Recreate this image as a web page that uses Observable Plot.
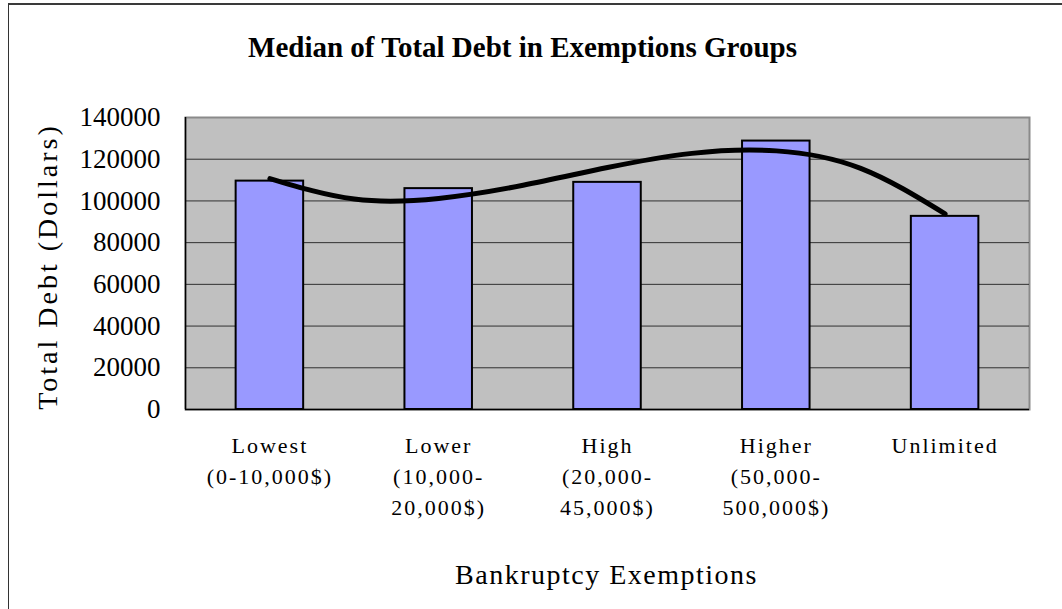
<!DOCTYPE html>
<html>
<head>
<meta charset="utf-8">
<script src="https://cdn.jsdelivr.net/npm/d3@7"></script>
<script src="https://cdn.jsdelivr.net/npm/@observablehq/plot@0.6"></script>
<style>
  html, body { margin: 0; padding: 0; background: #fff; overflow: hidden; }
  #wrap { position: relative; width: 1062px; height: 609px; }
  #border { position: absolute; left: 8px; top: 3px; width: 1200px; height: 800px;
            border-top: 2px solid #3a3a3a; border-left: 1.5px solid #333; pointer-events: none; z-index: 2; }
  #chart { position: absolute; left: 0; top: 0; }
</style>
</head>
<body>
<div id="wrap"><div id="chart"></div><div id="border"></div></div>
<script>
const categories = [
  "Lowest\n(0-10,000$)",
  "Lower\n(10,000-\n20,000$)",
  "High\n(20,000-\n45,000$)",
  "Higher\n(50,000-\n500,000$)",
  "Unlimited"
];
const medianDebt = [109500, 105900, 108900, 128700, 92600];
const yTicks = [0, 20000, 40000, 60000, 80000, 100000, 120000, 140000];
// trend curve, at category positions and midpoints
const trendPos = [1, 1.5, 2, 2.5, 3, 3.5, 4, 4.5, 5];
const trendDebt = [110700, 100900, 101200, 107500, 116000, 122800, 124000, 115600, 93800];

const titleText = "Median of Total Debt in Exemptions Groups";
const yLabel = "Total Debt (Dollars)";
const xLabel = "Bankruptcy Exemptions";

const bars = categories.map((c, i) => ({pos: i + 1, label: c, value: medianDebt[i]}));
const trend = trendPos.map((p, i) => ({pos: p, value: trendDebt[i]}));
const half = 0.2;

const serif = "'Liberation Serif', 'Times New Roman', serif";

const chart = Plot.plot({
  width: 1062,
  height: 609,
  marginLeft: 185,
  marginRight: 33,
  marginTop: 117,
  marginBottom: 200,
  style: {background: "transparent", color: "#000", fontFamily: serif},
  x: {type: "linear", domain: [0.5, 5.5], axis: null},
  y: {domain: [0, 140000], axis: null},
  marks: [
    Plot.frame({fill: "#c0c0c0", stroke: "#8a8a8a", strokeWidth: 2}),
    Plot.ruleY(yTicks.filter(v => v > 0 && v < 140000), {stroke: "#303030", strokeWidth: 1}),
    Plot.ruleX([0.5], {stroke: "#000", strokeWidth: 1.5}),
    Plot.ruleY([0], {stroke: "#000", strokeWidth: 1.5}),
    Plot.rect(bars, {
      x1: d => d.pos - half, x2: d => d.pos + half,
      y1: d => 0, y2: "value",
      fill: "#9999ff", stroke: "#000", strokeWidth: 2
    }),
    Plot.line(trend, {x: "pos", y: "value", curve: "natural", stroke: "#000", strokeWidth: 5, strokeLinecap: "round"}),
    Plot.axisY({ticks: yTicks, tickFormat: d => String(d), tickSize: 0, tickPadding: 25, fontSize: 27, fontFamily: serif, label: null}),
    Plot.text(bars, {
      x: "pos", text: "label", frameAnchor: "bottom", dy: 21, lineAnchor: "top",
      lineHeight: 1.41, fontSize: 22, fontFamily: serif, fill: "#000"
    }),
    Plot.text([yLabel], {frameAnchor: "left", textAnchor: "middle", lineAnchor: "middle", dx: -137, dy: 3, rotate: -90,
      fontSize: 28, fontFamily: serif, fill: "#000"}),
    Plot.text([xLabel], {frameAnchor: "bottom", lineAnchor: "middle", dx: -1, dy: 166, fontSize: 28, fontFamily: serif, fill: "#000"}),
    Plot.text([titleText], {frameAnchor: "top", lineAnchor: "middle", dx: -85, dy: -70, fontSize: 29, fontWeight: "bold",
      fontFamily: serif, fill: "#000"})
  ]
});

// letter spacing to mimic the monospaced look of the original labels
d3.select(chart).selectAll("text").each(function() {
  const t = this.textContent;
  if (t === yLabel) this.setAttribute("letter-spacing", "3");
  else if (t === xLabel) this.setAttribute("letter-spacing", "1.5");
  else if (t === titleText) this.setAttribute("letter-spacing", "0");
  else if (!yTicks.map(String).includes(t)) this.setAttribute("letter-spacing", "2");
});
document.getElementById("chart").appendChild(chart);
</script>
</body>
</html>
